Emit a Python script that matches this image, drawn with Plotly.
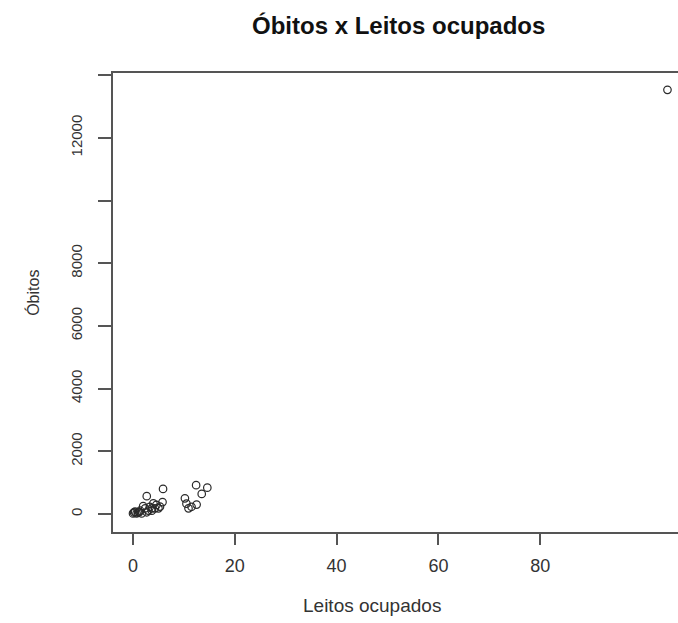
import plotly.graph_objects as go

# Data
leitos = [0.0, 0.2, 0.4, 0.7, 1.0, 1.2, 1.4, 1.7, 2.0, 2.4, 2.7, 2.7, 3.0, 3.3, 3.7, 3.7,
          4.0, 4.3, 4.6, 5.0, 5.3, 5.8, 5.9,
          10.2, 10.5, 10.9, 11.5, 12.5, 12.4, 13.5, 14.6,
          105.0]
obitos = [20, 50, 75, 20, 40, 60, 105, 20, 250, 180, 55, 570, 110, 230, 105, 180,
          340, 180, 290, 180, 235, 380, 800,
          500, 330, 180, 230, 300, 920, 640, 840,
          13530]

y_tickvals = [0, 2000, 4000, 6000, 8000, 10000, 12000, 14000]
y_ticktext = ["0", "2000", "4000", "6000", "8000", "", "12000", ""]
x_tickvals = [0, 20, 40, 60, 80]
x_ticktext = ["0", "20", "40", "60", "80"]

title_text = "Óbitos x Leitos ocupados"
xlab = "Leitos ocupados"
ylab = "Óbitos"

FONT = "Liberation Sans, Arial, sans-serif"

fig = go.Figure()
fig.add_trace(go.Scatter(
    x=leitos, y=obitos, mode="markers",
    marker=dict(symbol="circle-open", size=7.5, color="#2a2a2a",
                line=dict(width=1.2, color="#2a2a2a")),
    showlegend=False, hoverinfo="x+y", cliponaxis=False,
))

fig.update_layout(
    width=678, height=623,
    margin=dict(l=113, r=0, t=73, b=91),
    paper_bgcolor="white", plot_bgcolor="white",
    font=dict(family=FONT, color="#333"),
    xaxis=dict(
        range=[-3.93, 107.07], tickvals=x_tickvals, ticktext=x_ticktext,
        showgrid=False, zeroline=False, showline=True, mirror=True,
        linecolor="#555", linewidth=1.5, ticks="outside", ticklen=11,
        tickcolor="#555", tickwidth=1.5, tickfont=dict(size=18, color="#333"),
        ticklabelstandoff=6, automargin=False,
    ),
    yaxis=dict(
        range=[-574, 14067], tickvals=y_tickvals, ticktext=y_ticktext,
        showgrid=False, zeroline=False, showline=True, mirror=False,
        linecolor="#555", linewidth=1.5, ticks="outside", ticklen=13,
        tickcolor="#555", tickwidth=1.5, tickfont=dict(size=15, color="#333"),
        tickangle=-90, ticklabelstandoff=10, automargin=False,
    ),
    annotations=[
        dict(text="<b>" + title_text + "</b>", xref="paper", yref="paper",
             x=0.506, y=1.103, xanchor="center", yanchor="middle",
             showarrow=False, font=dict(size=24, color="#111", family=FONT)),
        dict(text=xlab, xref="paper", yref="paper",
             x=0.458, y=-0.161, xanchor="center", yanchor="middle",
             showarrow=False, font=dict(size=19, color="#333", family=FONT)),
        dict(text=ylab, xref="paper", yref="paper",
             x=-0.1416, y=0.521, xanchor="center", yanchor="middle",
             textangle=-90, showarrow=False,
             font=dict(size=16, color="#333", family=FONT)),
    ],
)

fig.write_html(
    "out.html",
    config={"displayModeBar": False},
    post_script="document.body.style.margin='0px';document.body.style.overflow='hidden';",
)
